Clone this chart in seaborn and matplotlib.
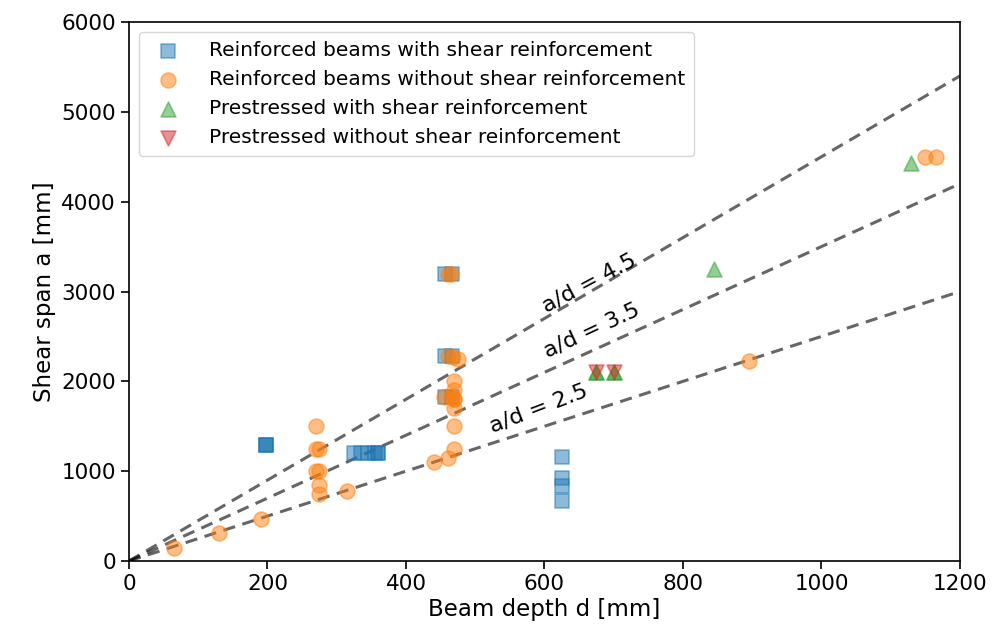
import numpy as np
import pandas as pd
import matplotlib
matplotlib.use("Agg")
import matplotlib.pyplot as plt
import seaborn as sns

# Data (beam depth d [mm], shear span a [mm])
rc_with_d = [198, 198, 198, 325, 335, 345, 355, 360, 360, 456, 466, 456, 466, 456, 466, 625, 625, 625, 625]
rc_with_a = [1290, 1290, 1290, 1200, 1200, 1200, 1200, 1200, 1200, 3200, 3200, 2280, 2280, 1830, 1830,
             1160, 920, 830, 670]

rc_without_d = [65, 130, 190, 270, 270, 275, 270, 275, 275, 275, 315, 440, 460, 470, 470, 470, 470,
                470, 470, 460, 468, 475, 455, 465, 470, 460, 465, 895, 1150, 1165]
rc_without_a = [150, 310, 470, 1500, 1250, 1250, 1000, 1000, 850, 750, 780, 1100, 1150, 1250, 1500,
                1700, 1800, 1900, 2000, 2280, 2270, 2250, 1830, 1830, 1800, 3200, 3200, 2230, 4500, 4500]

ps_with_d = [675, 700, 675, 700, 845, 1130]
ps_with_a = [2100, 2100, 2100, 2100, 3250, 4430]

ps_without_d = [675, 700]
ps_without_a = [2100, 2100]

ratios = [4.5, 3.5, 2.5]
ratio_labels = ["a/d = 4.5", "a/d = 3.5", "a/d = 2.5"]
label_d = [664, 668, 592]
label_a = [3090, 2570, 1700]
label_rot = [28, 25, 21]

series = [
    ("Reinforced beams with shear reinforcement", rc_with_d, rc_with_a, "s", "#1f77b4"),
    ("Reinforced beams without shear reinforcement", rc_without_d, rc_without_a, "o", "#ff7f0e"),
    ("Prestressed with shear reinforcement", ps_with_d, ps_with_a, "^", "#2ca02c"),
    ("Prestressed without shear reinforcement", ps_without_d, ps_without_a, "v", "#d62728"),
]

sns.set_style("ticks")
plt.rcParams["font.family"] = ["DejaVu Sans"]
plt.rcParams["text.color"] = "black"
plt.rcParams["axes.labelcolor"] = "black"
plt.rcParams["xtick.color"] = "black"
plt.rcParams["ytick.color"] = "black"

fig = plt.figure(figsize=(9.95, 6.43), dpi=100)
ax = fig.add_axes([0.1296, 0.1275, 0.8352, 0.8383])

for name, d, a, m, c in series:
    df = pd.DataFrame({"d": d, "a": a})
    sns.scatterplot(data=df, x="d", y="a", marker=m, color=c, alpha=0.5,
                    s=115, edgecolor=c, linewidth=1.2, ax=ax, label=name, zorder=3)

xline = np.array([0, 1200])
for r in ratios:
    ax.plot(xline, r * xline, linestyle="--", color="black", alpha=0.6,
            linewidth=2.2, dashes=(4, 2.5), zorder=2)

for t, x, y, rot in zip(ratio_labels, label_d, label_a, label_rot):
    ax.text(x, y, t, rotation=rot, fontsize=16, ha="center", va="center",
            rotation_mode="anchor", zorder=4)

ax.set_xlim(0, 1200)
ax.set_ylim(0, 6000)
ax.set_xticks([0, 200, 400, 600, 800, 1000, 1200])
ax.set_yticks([0, 1000, 2000, 3000, 4000, 5000, 6000])
ax.tick_params(labelsize=15.5, width=1.2, length=6)
ax.set_xlabel("Beam depth d [mm]", fontsize=16.5, labelpad=3)
ax.set_ylabel("Shear span a [mm]", fontsize=16.5)
for sp in ax.spines.values():
    sp.set_linewidth(1.2)
    sp.set_color("black")

leg = ax.legend(loc="upper left", fontsize=14.5, frameon=True, handletextpad=1.0,
                borderpad=0.45, labelspacing=0.5, borderaxespad=0.5)
leg.get_frame().set_edgecolor("#cccccc")

fig.savefig("out.png", dpi=100)
